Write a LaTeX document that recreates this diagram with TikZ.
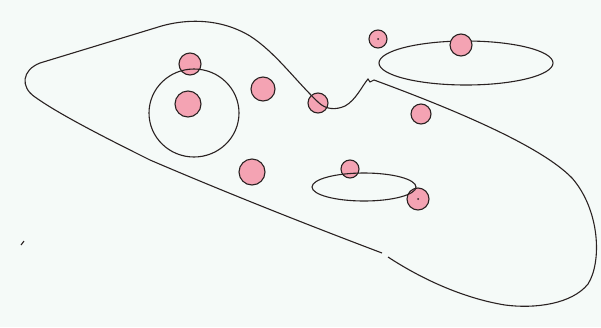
\documentclass[tikz,border=0pt]{standalone}
\usepackage{xcolor}
\usepackage{tikz}

\definecolor{paper}{HTML}{F5FAF8}
\definecolor{blush}{HTML}{F4A3B3}
\definecolor{ink}{HTML}{2A2222}

\tikzset{
  blob/.style={draw=ink, line width=1.1pt},
  dot/.style={fill=blush, draw=ink, line width=1.1pt}
}

\begin{document}
\begin{tikzpicture}[x=1pt, y=-1pt]
    \fill[paper] (0,0) rectangle (601,327);
    \useasboundingbox (0,0) rectangle (601,327);
    % pink points
    \foreach \px/\py/\r in {190/64/11, 188/104/13, 263/89/12, 252/172/13, 318/103/10,
                            378/39/9, 421/114/10, 350/169/9, 418/199/11} {
        \path[dot] (\px,\py) circle (\r);
    }
    \fill[ink] (378,39) circle (1);
    \fill[ink] (418,199) circle (1);
    % sets
    \draw[blob] (194,113) circle [x radius=45, y radius=44];
    \draw[blob] (466,63) ellipse [x radius=87, y radius=22];
    \draw[blob] (364,187) ellipse [x radius=52, y radius=14];
    \path[dot] (461,45) circle (11);
    % outer region
    \draw[blob] (382,253) .. controls (300,222) and (220,190) .. (150,160)
        .. controls (110,140) and (60,115) .. (35,97)
        .. controls (20,87) and (22,70) .. (40,63) -- (155,28)
        .. controls (185,18) and (220,18) .. (250,36)
        .. controls (275,52) and (295,80) .. (318,102)
        .. controls (326,110) and (336,110) .. (345,106)
        .. controls (356,100) and (362,86) .. (368,79) -- (370,82) -- (374,80)
        .. controls (450,108) and (540,145) .. (572,178)
        .. controls (600,210) and (602,262) .. (588,284)
        .. controls (572,304) and (535,309) .. (505,305)
        .. controls (462,298) and (420,278) .. (388,257);
    \draw[blob] (21,245) -- (24,241);
\end{tikzpicture}
\end{document}
